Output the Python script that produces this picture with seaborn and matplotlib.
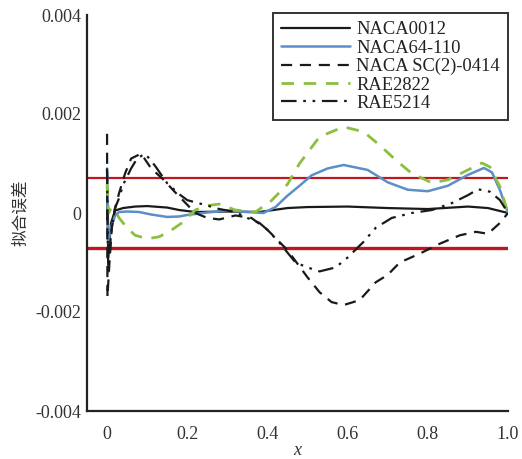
import matplotlib
matplotlib.use("Agg")
import matplotlib.pyplot as plt
import seaborn as sns

# Fitting error of five airfoils along the chord
x_naca0012 = [0.0, 0.003, 0.01, 0.02, 0.04, 0.07, 0.10, 0.15, 0.18, 0.22, 0.30, 0.38,
              0.45, 0.50, 0.60, 0.70, 0.80, 0.90, 0.95, 1.0]
y_naca0012 = [0.0005, -0.0009, -0.0002, 0.00005, 0.0001, 0.00013, 0.00014, 0.00011, 0.00006,
              0.00002, 0.00003, 0.00002, 0.0001, 0.00012, 0.00013, 0.0001, 0.00008, 0.00013,
              0.0001, 0.0]

x_naca64 = [0.0, 0.003, 0.01, 0.02, 0.03, 0.05, 0.08, 0.11, 0.15, 0.18, 0.20, 0.25, 0.30,
            0.35, 0.39, 0.42, 0.45, 0.48, 0.51, 0.55, 0.59, 0.65, 0.70, 0.75, 0.80, 0.85,
            0.90, 0.94, 0.96, 0.98, 1.0]
y_naca64 = [0.0009, -0.0006, -0.0003, -0.00005, 0.00002, 0.00003, 0.00002, -0.00003, -0.00008,
            -0.00007, -0.00004, 0.00001, 0.00005, 0.00002, 0.0, 0.00012, 0.00035, 0.00055,
            0.00076, 0.0009, 0.00097, 0.00087, 0.00062, 0.00047, 0.00044, 0.00055, 0.00077,
            0.00091, 0.00082, 0.00046, 0.0]

x_sc2 = [0.0, 0.001, 0.006, 0.012, 0.02, 0.03, 0.045, 0.06, 0.085, 0.11, 0.14, 0.165, 0.19,
         0.22, 0.25, 0.28, 0.32, 0.36, 0.40, 0.45, 0.50, 0.53, 0.56, 0.59, 0.63, 0.67, 0.70,
         0.73, 0.78, 0.83, 0.88, 0.92, 0.95, 0.98, 1.0]
y_sc2 = [0.0016, -0.0017, -0.001, -0.0003, 0.0001, 0.0004, 0.0008, 0.0011, 0.0012, 0.0009,
         0.00068, 0.00046, 0.00025, 0.0, -0.0001, -0.00013, -0.00005, -0.0001, -0.00034,
         -0.00075, -0.0013, -0.0016, -0.0018, -0.00186, -0.00176, -0.0014, -0.00125, -0.001,
         -0.00082, -0.00062, -0.00045, -0.00038, -0.00042, -0.0002, 0.0]

x_rae2822 = [0.0, 0.004, 0.01, 0.02, 0.03, 0.05, 0.07, 0.10, 0.13, 0.16, 0.19, 0.22, 0.25,
             0.28, 0.32, 0.37, 0.41, 0.45, 0.48, 0.53, 0.59, 0.64, 0.68, 0.72, 0.76, 0.81,
             0.85, 0.90, 0.935, 0.955, 0.98, 1.0]
y_rae2822 = [0.0006, 0.0, 0.0001, 0.00005, -0.0001, -0.0003, -0.00045, -0.00052, -0.00048,
             -0.00035, -0.00018, 0.00006, 0.00015, 0.00018, 0.00006, 0.00002, 0.00025, 0.00058,
             0.001, 0.00154, 0.00174, 0.00164, 0.00137, 0.00107, 0.0008, 0.00061, 0.00067,
             0.00087, 0.00101, 0.00093, 0.00053, 0.0]

x_rae5214 = [0.0, 0.003, 0.01, 0.02, 0.03, 0.04, 0.06, 0.075, 0.095, 0.12, 0.15, 0.18, 0.20,
             0.25, 0.28, 0.32, 0.35, 0.38, 0.40, 0.43, 0.47, 0.50, 0.53, 0.57, 0.60, 0.64,
             0.67, 0.71, 0.76, 0.81, 0.86, 0.90, 0.925, 0.955, 0.98, 1.0]
y_rae5214 = [0.0009, -0.0012, -0.0004, 0.0001, 0.0003, 0.00057, 0.0009, 0.0011, 0.0012,
             0.00095, 0.0006, 0.00038, 0.00026, 0.00015, 0.00008, 0.00002, -0.0001, -0.0002,
             -0.00034, -0.0006, -0.001, -0.0011, -0.00118, -0.0011, -0.0009, -0.00058, -0.0003,
             -0.0001, 0.0, 0.00006, 0.0002, 0.00036, 0.00048, 0.00043, 0.00026, 0.0]

error_bound = 0.0007

x_ticks = [0.0, 0.2, 0.4, 0.6, 0.8, 1.0]
x_ticklabels = ["0", "0.2", "0.4", "0.6", "0.8", "1.0"]
y_ticks = [-0.004, -0.002, 0.0, 0.002, 0.004]
y_ticklabels = ["-0.004", "-0.002", "0", "0.002", "0.004"]

sns.set_theme(style="white")
plt.rcParams["font.family"] = ["Liberation Serif", "Noto Sans CJK SC", "DejaVu Sans"]
plt.rcParams["axes.unicode_minus"] = False

ink = "#222222"
fig = plt.figure(figsize=(5.22, 4.59), dpi=100)
ax = fig.add_axes([87 / 522, 48 / 459, (508 - 87) / 522, (411 - 15) / 459])

series = [
    ("NACA0012", x_naca0012, y_naca0012, dict(color="#1a1a1a", lw=1.6, linestyle="-")),
    ("NACA64-110", x_naca64, y_naca64, dict(color="#5b8fca", lw=1.8, linestyle="-")),
    ("NACA SC(2)-0414", x_sc2, y_sc2, dict(color="#1a1a1a", lw=1.6, linestyle=(0, (5, 3.5)))),
    ("RAE2822", x_rae2822, y_rae2822, dict(color="#8cbf3f", lw=2.0, linestyle=(0, (4.5, 3.5)))),
    ("RAE5214", x_rae5214, y_rae5214,
     dict(color="#1a1a1a", lw=1.6, linestyle=(0, (7, 3, 1.2, 3, 1.2, 3)))),
]
for name, xs, ys, style in series:
    sns.lineplot(x=xs, y=ys, ax=ax, sort=False, estimator=None, label=name, **style)

ax.axhline(error_bound, color="#c1161f", lw=1.6, zorder=1)
ax.axhline(-error_bound, color="#c1161f", lw=2.4, zorder=1)

ax.set_xlim(-0.05, 1.0)
ax.set_ylim(-0.004, 0.004)
ax.set_xticks(x_ticks)
ax.set_xticklabels(x_ticklabels)
ax.set_yticks(y_ticks)
ax.set_yticklabels(y_ticklabels)

for side in ("top", "right"):
    ax.spines[side].set_visible(False)
for side in ("left", "bottom"):
    ax.spines[side].set_color(ink)
    ax.spines[side].set_linewidth(1.6)

ax.tick_params(axis="both", direction="in", length=6, width=1.6, color=ink,
               labelsize=13, labelcolor="#333333")
ax.tick_params(axis="x", pad=11)
ax.tick_params(axis="y", pad=4)

ax.set_xlabel("x", fontsize=13, fontstyle="italic", color="#333333", labelpad=-1)
ax.set_ylabel("拟合误差", fontsize=12, color="#333333", labelpad=5,
              family=["Noto Sans CJK SC", "DejaVu Sans"])

leg = ax.legend(loc="upper right", bbox_to_anchor=(1.0, 1.005), borderaxespad=0,
                fontsize=13.3, frameon=True, fancybox=False, edgecolor="black",
                handlelength=3.7, handletextpad=0.35, labelspacing=0.07, borderpad=0.45)
leg.get_frame().set_linewidth(1.4)
for t in leg.get_texts():
    t.set_color("#222222")

fig.savefig("out.png", dpi=100, facecolor="white")
